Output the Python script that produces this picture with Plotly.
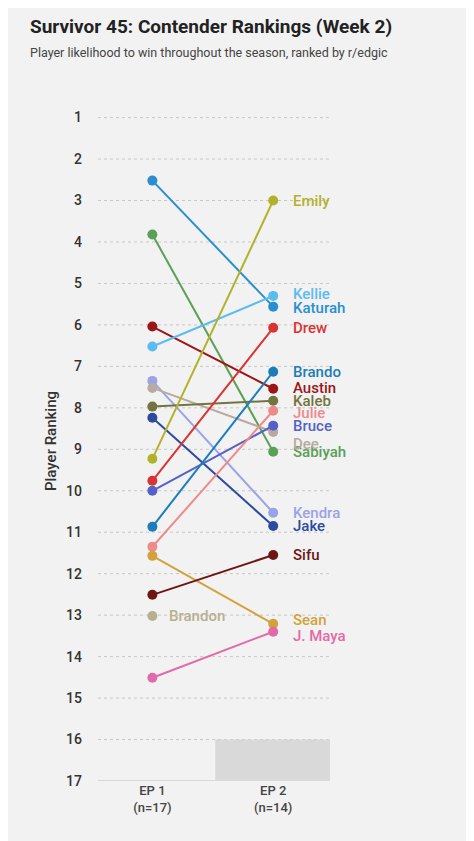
import plotly.graph_objects as go

players = ["Katurah","Sabiyah","Austin","Kellie","Kendra","Dee","Kaleb","Jake","Emily","Drew",
           "Bruce","Brando","Julie","Sean","Sifu","Brandon","J. Maya"]
ep1 = [2.52,3.82,6.04,6.52,7.35,7.52,7.97,8.24,9.23,9.76,10.0,10.87,11.35,11.57,12.51,13.02,14.51]
ep2 = [5.56,9.06,7.54,5.30,10.53,8.58,7.83,10.85,3.0,6.07,8.43,7.13,8.07,13.21,11.55,None,13.40]
colors = ["#2a8fd0","#5aa057","#9b1616","#5bbcf0","#9aa3e6","#b8aaa0","#727540","#2c4b9e","#b2b22a","#d93434",
          "#5561c8","#1c7db8","#ef8a8a","#d4a23a","#6e1515","#b7b08e","#e26aa8"]
label_y = {"Dee": 8.87, "Kellie": 5.25, "Katurah": 5.6, "Julie": 8.12, "Sean": 13.12, "J. Maya": 13.5, "Austin": 7.52}
episodes = ["EP 1<br>(n=17)", "EP 2<br>(n=14)"]
ranks = list(range(1, 18))

fig = go.Figure()
for k in ranks[:-1]:
    fig.add_shape(type="line", x0=-0.45, x1=1.47, y0=k, y1=k, layer="below",
                  line=dict(color="#c8c8c8", width=1, dash="dot"))
fig.add_shape(type="rect", x0=0.52, x1=1.47, y0=16, y1=17, fillcolor="#d9d9d9", line_width=0, layer="below")
fig.add_shape(type="line", x0=-0.45, x1=0.52, y0=17, y1=17, line=dict(color="#d0d0d0", width=1.5))

for p, a, b, c in zip(players, ep1, ep2, colors):
    xs, ys = ([0, 1], [a, b]) if b is not None else ([0], [a])
    fig.add_trace(go.Scatter(x=xs, y=ys, mode="lines+markers", line=dict(color=c, width=2),
                             marker=dict(size=10, color=c), showlegend=False, hoverinfo="skip"))
    if b is not None:
        fig.add_annotation(x=1.15, y=label_y.get(p, b), text=p, showarrow=False, xanchor="left",
                           font=dict(size=15, color=c, family="Roboto", weight=500))
    else:
        fig.add_annotation(x=0.12, y=a, text=p, showarrow=False, xanchor="left",
                           font=dict(size=15, color=c, family="Roboto", weight=500))

fig.add_annotation(xref="paper", yref="paper", x=-0.3, y=1.13, text="<b>Survivor 45: Contender Rankings (Week 2)</b>",
                   showarrow=False, xanchor="left", font=dict(size=19, color="#222", family="Roboto"))
fig.add_annotation(xref="paper", yref="paper", x=-0.3, y=1.085, text="Player likelihood to win throughout the season, ranked by r/edgic",
                   showarrow=False, xanchor="left", font=dict(size=12.5, color="#444", family="Roboto"))

fig.update_layout(
    width=474, height=841, paper_bgcolor="#f2f2f2", plot_bgcolor="#f2f2f2",
    margin=dict(l=90, r=152, t=93, b=68),
    font=dict(family="Roboto", color="#333"),
    xaxis=dict(range=[-0.45, 1.47], tickvals=[0, 1], ticktext=episodes, showgrid=False, zeroline=False,
               tickfont=dict(size=13, color="#444", weight=500)),
    yaxis=dict(range=[17, 0.6], tickvals=ranks, showgrid=False, zeroline=False,
               tickfont=dict(size=14, color="#333", weight=500), ticklabelstandoff=15,
               title=dict(text="Player Ranking", font=dict(size=15, color="#333", weight=500), standoff=5)),
)
fig.write_html("out.html")
